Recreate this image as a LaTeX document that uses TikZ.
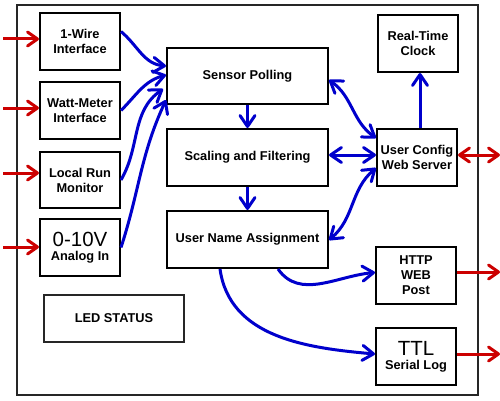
\documentclass[tikz,border=0pt]{standalone}
\usepackage{fontspec}
\setmainfont{Liberation Sans}
\usetikzlibrary{arrows.meta}
\definecolor{myblue}{RGB}{0,0,204}
\definecolor{myred}{RGB}{204,0,0}
\tikzset{
  box/.style={draw=black, line width=2pt, fill=white, align=center,
    font=\fontsize{12.8}{15}\selectfont\bfseries, inner sep=0pt},
  bw/.style={box, minimum width=80pt, minimum height=57pt},
  bigbox/.style={box, minimum width=161pt, minimum height=57pt},
  tipb/.tip={Straight Barb[length=11pt,width=15pt,round]},
  tipr/.tip={Straight Barb[length=10pt,width=14pt,round]},
  bl/.style={draw=myblue, line width=3pt, -tipb},
  bl2/.style={draw=myblue, line width=3pt, tipb-tipb},
  rd/.style={draw=myred, line width=3pt, -tipr},
  rd2/.style={draw=myred, line width=3pt, tipr-tipr},
}
\begin{document}
\begin{tikzpicture}[x=1pt,y=1pt]
\useasboundingbox (0,0) rectangle (500,400);
\fill[white] (0,0) rectangle (500,400);
\node[draw=black!85, line width=2.5pt, minimum width=461pt, minimum height=390pt, inner sep=0pt] (frame) at (247.5,200) {};
% left column
\node[bw] (w1) at (80,358.5) {1-Wire\\Interface};
\node[bw] (wm) at (80,289.5) {Watt-Meter\\Interface};
\node[bw, minimum height=56pt] (lr) at (80,220) {Local Run\\Monitor};
\node[bw] (an) at (80,152.5) {{\fontsize{20.5}{20}\selectfont\mdseries 0-10V}\\[-1pt]Analog In};
\node[box, draw=black!85, line width=2.5pt, minimum width=140pt, minimum height=47pt] (led) at (114,81.5) {LED STATUS};
% middle column
\node[bigbox, minimum height=56pt] (sp) at (247.5,324) {Sensor Polling};
\node[bigbox] (sf) at (247.5,242.5) {Scaling and Filtering};
\node[bigbox] (un) at (247.5,160.5) {User Name Assignment};
% right column
\node[bw] (rtc) at (418,356.5) {Real-Time\\Clock};
\node[bw] (uc) at (417,242.5) {User Config\\Web Server};
\node[bw] (http) at (416,124.5) {HTTP\\WEB\\Post};
\node[bw] (ttl) at (416,43.5) {{\fontsize{20.5}{20}\selectfont\mdseries TTL}\\[-1pt]Serial Log};
% external coordinates
\coordinate (i1) at (3,361);
\coordinate (i2) at (3,292);
\coordinate (i3) at (3,227);
\coordinate (i4) at (3,153);
\coordinate (o1) at (500,245);
\coordinate (o2) at (500,128);
\coordinate (o3) at (500,46);
% red arrows
\draw[rd] (i1) -- (i1 -| w1.west);
\draw[rd] (i2) -- (i2 -| wm.west);
\draw[rd] (i3) -- (i3 -| lr.west);
\draw[rd] (i4) -- (i4 -| an.west);
\draw[rd2] (o1 -| uc.east) -- (o1);
\draw[rd] (o2 -| http.east) -- (o2);
\draw[rd] (o3 -| ttl.east) -- (o3);
% blue arrows into sensor polling
\draw[bl] ([yshift=10pt]w1.east) to[out=-40,in=175] ([yshift=10pt]sp.west);
\draw[bl] (wm.east) to[out=45,in=195] ([yshift=1pt]sp.west);
\draw[bl] (lr.east) to[out=60,in=215] ([xshift=-3pt,yshift=-13pt]sp.west);
\draw[bl] (an.east) to[out=72,in=245] ([yshift=-24pt]sp.west);
% vertical chain
\draw[bl] (sp.south) -- (sf.north);
\draw[bl] (sf.south) -- (un.north);
% to user config
\draw[bl2] ([yshift=-4pt]sp.east) to[out=-35,in=145] ([yshift=19.5pt]uc.west);
\draw[bl2] ([yshift=2.5pt]sf.east) -- ([yshift=2.5pt]sf.east -| uc.west);
\draw[bl2] ([yshift=-0.5pt]un.east) to[out=40,in=220] ([yshift=-10.5pt]uc.west);
\draw[bl] ([xshift=3pt]uc.north) -- ([xshift=3pt]uc.north |- rtc.south);
% outputs
\draw[bl] ([xshift=30.5pt]un.south) to[out=-55,in=185] ([yshift=3pt]http.west);
\draw[bl] ([xshift=-27.5pt]un.south) to[out=-82,in=175] ([yshift=2.5pt]ttl.west);
\end{tikzpicture}
\end{document}
